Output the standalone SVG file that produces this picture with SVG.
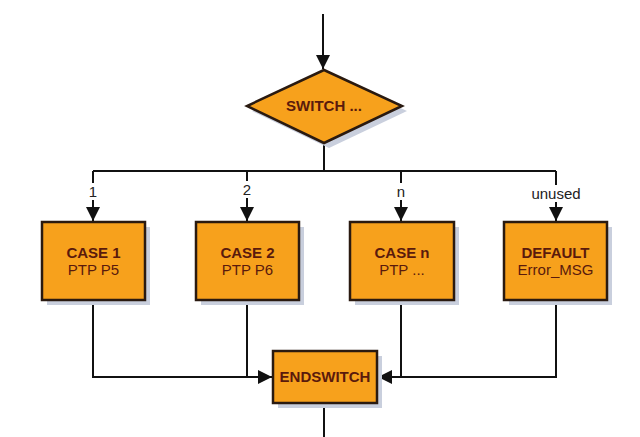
<svg xmlns="http://www.w3.org/2000/svg" width="640" height="437" viewBox="0 0 640 437">
<defs>
<style>
.node{fill:#f7a11c;stroke:#2a1a10;stroke-width:2.5}
.shadow{fill:#c9cfdd}
.edge{fill:none;stroke:#111;stroke-width:2}
.t{font-family:"Liberation Sans",Arial,sans-serif;font-size:15px;fill:#5a1a0c;text-anchor:middle}
.b{font-weight:bold}
.lbl{font-family:"Liberation Sans",Arial,sans-serif;font-size:15px;fill:#222;text-anchor:middle}
</style>
<marker id="ah" viewBox="0 0 10 10" refX="10" refY="5" markerWidth="7" markerHeight="7" markerUnits="strokeWidth" orient="auto">
<path d="M0,0 L10,5 L0,10 z" fill="#111"/>
</marker>
</defs>
<rect width="640" height="437" fill="#fff"/>
<g id="connectors">
<path class="edge" d="M323,14 V69" marker-end="url(#ah)"/>
<path class="edge" d="M324,143 V171"/>
<path class="edge" d="M93,171 H556"/>
<path class="edge" d="M93,171 V221" marker-end="url(#ah)"/>
<path class="edge" d="M247,171 V221" marker-end="url(#ah)"/>
<path class="edge" d="M401,171 V221" marker-end="url(#ah)"/>
<path class="edge" d="M556,171 V221" marker-end="url(#ah)"/>
<path class="edge" d="M93,300 V377 H272" marker-end="url(#ah)"/>
<path class="edge" d="M247,300 V377"/>
<path class="edge" d="M556,300 V377 H378" marker-end="url(#ah)"/>
<path class="edge" d="M401,300 V377"/>
<path class="edge" d="M324,403 V437"/>
<rect x="80" y="183" width="26" height="17" fill="#fff"/>
<text class="lbl" x="93" y="197">1</text>
<rect x="234" y="181" width="26" height="17" fill="#fff"/>
<text class="lbl" x="247" y="195">2</text>
<rect x="388" y="183" width="26" height="17" fill="#fff"/>
<text class="lbl" x="401" y="197">n</text>
<rect x="526" y="185" width="60" height="17" fill="#fff"/>
<text class="lbl" x="556" y="199">unused</text>
</g>
<g id="switch">
<polygon class="shadow" points="329,75 407,111 329,148 252,111"/>
<polygon class="node" points="324,70 402,106 324,143 247,106"/>
<text class="t b" x="324" y="111">SWITCH ...</text>
</g>
<g id="case1">
<rect class="shadow" x="47" y="227" width="103" height="78"/>
<rect class="node" x="42" y="222" width="103" height="78"/>
<text class="t b" x="93.5" y="258">CASE 1</text>
<text class="t" x="93.5" y="275">PTP P5</text>
</g>
<g id="case2">
<rect class="shadow" x="201" y="227" width="103" height="78"/>
<rect class="node" x="196" y="222" width="103" height="78"/>
<text class="t b" x="247.5" y="258">CASE 2</text>
<text class="t" x="247.5" y="275">PTP P6</text>
</g>
<g id="casen">
<rect class="shadow" x="355" y="227" width="104" height="78"/>
<rect class="node" x="350" y="222" width="104" height="78"/>
<text class="t b" x="402" y="258">CASE n</text>
<text class="t" x="402" y="275">PTP ...</text>
</g>
<g id="default">
<rect class="shadow" x="509" y="227" width="103" height="78"/>
<rect class="node" x="504" y="222" width="103" height="78"/>
<text class="t b" x="555.5" y="258">DEFAULT</text>
<text class="t" x="555.5" y="275">Error_MSG</text>
</g>
<g id="endswitch">
<rect class="shadow" x="278" y="356" width="104" height="52"/>
<rect class="node" x="273" y="351" width="104" height="52"/>
<text class="t b" x="325" y="382">ENDSWITCH</text>
</g>
</svg>
